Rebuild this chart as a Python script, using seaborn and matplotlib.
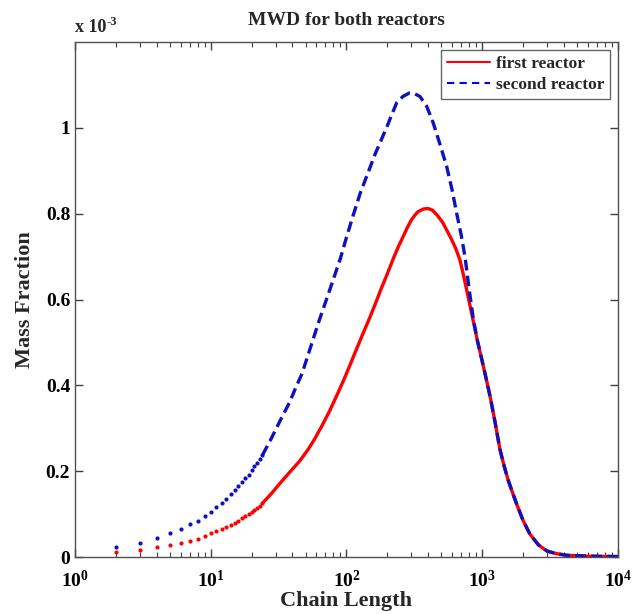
import numpy as np
import pandas as pd
import seaborn as sns
import matplotlib.pyplot as plt
from matplotlib.ticker import FuncFormatter, LogLocator
from matplotlib.lines import Line2D

# low chain lengths (drawn as separate dots), values in units of 1e-3
n_low = [2, 3, 4, 5, 6, 7, 8, 9, 10, 11, 12, 13, 14, 15, 16, 17, 18, 19, 20, 21, 22, 23, 24]
first_low = [0.0125, 0.017, 0.023, 0.028, 0.0335, 0.037, 0.041, 0.048, 0.055, 0.060, 0.065, 0.070,
             0.075, 0.080, 0.085, 0.090, 0.095, 0.100, 0.105, 0.110, 0.115, 0.120, 0.125]
second_low = [0.023, 0.033, 0.044, 0.055, 0.065, 0.076, 0.085, 0.095, 0.106, 0.116, 0.126, 0.136,
              0.146, 0.155, 0.165, 0.174, 0.183, 0.192, 0.202, 0.211, 0.220, 0.229, 0.237]

# rest of the distributions (continuous lines), values in units of 1e-3
n_first = [24, 28, 32, 38, 45, 52, 58, 66, 75, 85, 95, 106, 118, 130, 149, 165, 180, 200, 221,
           240, 260, 280, 300, 320, 338, 370, 400, 430, 470, 510, 547, 590, 640, 685, 730, 780,
           820, 859, 920, 1000, 1079, 1150, 1250, 1352, 1450, 1550, 1650, 1795, 2000, 2249, 2600,
           3000, 3500, 4200, 6000, 10000]
first = [0.125, 0.148, 0.170, 0.197, 0.223, 0.250, 0.274, 0.306, 0.340, 0.377, 0.411, 0.447,
         0.483, 0.515, 0.559, 0.594, 0.625, 0.660, 0.695, 0.722, 0.745, 0.767, 0.785, 0.797,
         0.805, 0.811, 0.812, 0.808, 0.795, 0.780, 0.762, 0.742, 0.718, 0.692, 0.655, 0.612,
         0.580, 0.550, 0.505, 0.456, 0.410, 0.370, 0.310, 0.250, 0.212, 0.180, 0.155, 0.123,
         0.085, 0.053, 0.028, 0.014, 0.008, 0.004, 0.002, 0.001]

n_second = [24, 28, 32, 38, 43, 47, 54, 62, 68, 75, 82, 90, 100, 112, 126, 138, 150, 163, 176,
            200, 215, 234, 260, 290, 320, 348, 390, 436, 490, 547, 600, 648, 700, 747, 800, 859,
            920, 1000, 1079, 1150, 1250, 1352, 1450, 1550, 1650, 1795, 2000, 2249, 2600, 3000,
            3500, 4200, 6000, 10000]
second = [0.237, 0.277, 0.314, 0.360, 0.400, 0.427, 0.486, 0.545, 0.582, 0.621, 0.657, 0.695,
          0.745, 0.796, 0.847, 0.880, 0.910, 0.940, 0.964, 1.005, 1.030, 1.058, 1.073, 1.081,
          1.079, 1.073, 1.050, 1.011, 0.960, 0.910, 0.855, 0.801, 0.750, 0.699, 0.625, 0.555,
          0.505, 0.456, 0.410, 0.370, 0.310, 0.250, 0.212, 0.180, 0.155, 0.123, 0.085, 0.053,
          0.028, 0.014, 0.008, 0.004, 0.002, 0.001]

sns.set_style('ticks')
plt.rcParams['font.family'] = ['Liberation Serif', 'DejaVu Serif']
plt.rcParams['font.weight'] = 'bold'
plt.rcParams['mathtext.fontset'] = 'custom'
plt.rcParams['mathtext.rm'] = 'Liberation Serif:bold'
plt.rcParams['mathtext.it'] = 'Liberation Serif:bold'
plt.rcParams['mathtext.bf'] = 'Liberation Serif:bold'

red = '#ff0000'
blue = '#1010c0'

fig = plt.figure(figsize=(6.38, 6.14), dpi=100)
ax = fig.add_axes([0.1176, 0.0928, 0.851, 0.8388])

low = pd.DataFrame({'n': n_low, 'first': np.array(first_low) * 1e-3, 'second': np.array(second_low) * 1e-3})
df1 = pd.DataFrame({'n': n_first, 'w': np.array(first) * 1e-3})
df2 = pd.DataFrame({'n': n_second, 'w': np.array(second) * 1e-3})

sns.scatterplot(data=low, x='n', y='first', color=red, s=9, linewidth=0, ax=ax)
sns.scatterplot(data=low, x='n', y='second', color=blue, s=9, linewidth=0, ax=ax)
sns.lineplot(data=df1, x='n', y='w', color=red, lw=2.4, ax=ax)
sns.lineplot(data=df2, x='n', y='w', color=blue, lw=2.4, ax=ax)
ax.lines[-1].set_linestyle((0, (3.2, 1.6)))

ax.set_xscale('log')
ax.set_xlim(1, 1e4)
ax.set_ylim(0, 1.2e-3)
ax.set_yticks([0, 0.2e-3, 0.4e-3, 0.6e-3, 0.8e-3, 1.0e-3])
ax.yaxis.set_major_formatter(FuncFormatter(lambda v, p: f'{v * 1e3:g}'))
ax.xaxis.set_major_locator(LogLocator(base=10, numticks=10))
ax.xaxis.set_minor_locator(LogLocator(base=10, subs=np.arange(2, 10), numticks=20))

ax.tick_params(which='both', direction='in', top=True, right=True, colors='#404040',
               labelcolor='black', labelsize=14)
ax.tick_params(which='major', length=6, width=1)
ax.tick_params(which='minor', length=3.5, width=0.8)
ax.tick_params(axis='x', which='major', pad=9)
for s in ax.spines.values():
    s.set_color('#505050')
    s.set_linewidth(1.0)

ax.set_title('MWD for both reactors', fontsize=14, fontweight='bold', pad=12)
ax.set_xlabel('Chain Length', fontsize=16, fontweight='bold', labelpad=0)
ax.set_ylabel('Mass Fraction', fontsize=16, fontweight='bold', labelpad=8)
ax.text(0, 1.012, 'x 10', transform=ax.transAxes, fontsize=13, fontweight='bold',
        ha='left', va='bottom')
ax.annotate('-3', xy=(0, 1.012), xycoords='axes fraction', xytext=(23, 5.5),
            textcoords='offset points', fontsize=9, fontweight='bold', ha='left', va='bottom')

handles = [Line2D([], [], color='#ff0000', lw=1.5),
           Line2D([], [], color='#0000ff', lw=1.5, linestyle=(0, (3.5, 2.5)))]
leg = ax.legend(handles, ['first reactor', 'second reactor'], loc='upper right',
                fontsize=12.5, frameon=True, fancybox=False, handlelength=2.5,
                borderaxespad=0.45, handletextpad=0.3, borderpad=0.35, labelspacing=0.3)
leg.get_frame().set_edgecolor('#404040')
leg.get_frame().set_linewidth(1.0)

fig.savefig('out.png', dpi=100)
